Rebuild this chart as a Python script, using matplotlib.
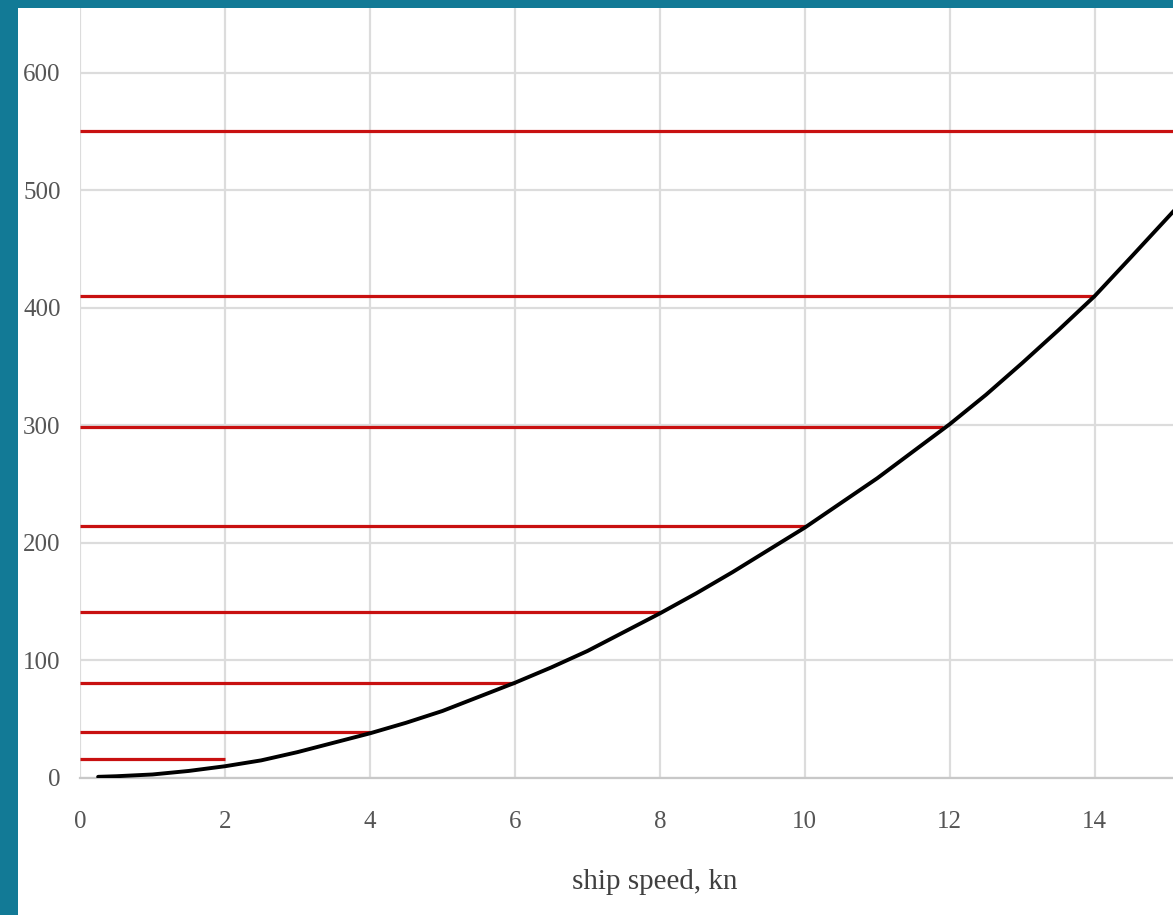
import numpy as np
import matplotlib.pyplot as plt
from matplotlib.patches import Rectangle

# curve: ship speed (kn) vs value
speed = [0.25, 0.5, 1, 1.5, 2, 2.5, 3, 3.5, 4, 4.5, 5, 5.5, 6, 6.5, 7, 7.5, 8,
         8.5, 9, 9.5, 10, 10.5, 11, 11.5, 12, 12.5, 13, 13.5, 14, 14.5, 15.1]
value = [1, 1.5, 3, 6, 10, 15, 22, 30, 38, 47, 57, 69, 81, 94, 108, 124, 140,
         157, 175, 194, 213, 234, 255, 278, 301, 326, 353, 381, 410, 443, 483]

# red horizontal levels and where each one stops on the x axis
level_y = [16, 39, 81, 141, 214, 299, 410, 550]
level_end = [2, 4, 6, 8, 10, 11.9, 14, 15.1]

xticks = [0, 2, 4, 6, 8, 10, 12, 14]
yticks = [0, 100, 200, 300, 400, 500, 600]

W, H = 1173, 915
fig = plt.figure(figsize=(W / 100, H / 100), dpi=100)
fig.patch.set_facecolor('#127a96')
# white panel inside the teal frame
fig.patches.append(Rectangle((18 / W, 0), 1, 1 - 8 / H, transform=fig.transFigure,
                             facecolor='white', edgecolor='none', zorder=-10))

ax = fig.add_axes([80 / W, (H - 778) / H, 1 - 80 / W, (778 - 8) / H])
ax.set_facecolor('white')
ax.set_xlim(0, 15.08)
ax.set_ylim(0, 655)

ax.grid(True, color='#dcdcdc', linewidth=1.6)
ax.set_axisbelow(True)
for s in ['top', 'right', 'left']:
    ax.spines[s].set_visible(False)
ax.spines['bottom'].set_color('#c8c8c8')
ax.spines['bottom'].set_linewidth(1.6)

for y, xe in zip(level_y, level_end):
    ax.plot([0, xe], [y, y], color='#c81010', linewidth=2.3, solid_capstyle='butt', zorder=3)

ax.plot(speed, value, color='black', linewidth=2.8, zorder=4,
        solid_joinstyle='round', solid_capstyle='round')

ax.set_xticks(xticks)
ax.set_yticks(yticks)
ax.tick_params(length=0, labelsize=18, colors='#555555')
ax.tick_params(axis='x', pad=24)
ax.tick_params(axis='y', pad=14)
for lab in ax.get_xticklabels() + ax.get_yticklabels():
    lab.set_fontfamily('Liberation Serif')

fig.text(655 / W, 1 - 882 / H, 'ship speed, kn', family='Liberation Serif', fontsize=21,
         color='#404040', ha='center', va='center')

fig.savefig('out.png', dpi=100, facecolor=fig.get_facecolor())
